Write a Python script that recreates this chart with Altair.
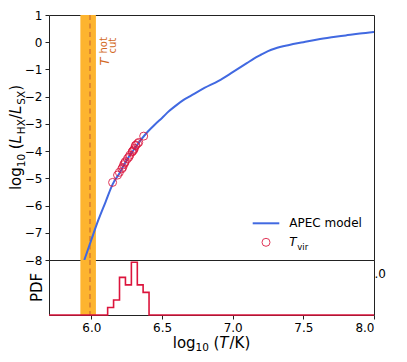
import altair as alt
import pandas as pd

# ---------------- data ----------------
curve_T = [5.95, 6.0, 6.05, 6.1, 6.15, 6.2, 6.25, 6.3, 6.35, 6.4, 6.45, 6.5, 6.55, 6.6,
           6.65, 6.7, 6.8, 6.9, 7.0, 7.1, 7.15, 7.2, 7.25, 7.3, 7.4, 7.5, 7.6, 7.7,
           7.8, 7.9, 8.0]
curve_L = [-8.0, -7.25, -6.52, -5.87, -5.22, -4.8, -4.33, -3.95, -3.59, -3.28, -3.02,
           -2.78, -2.53, -2.32, -2.13, -1.98, -1.68, -1.42, -1.1, -0.77, -0.6, -0.46,
           -0.33, -0.23, -0.1, 0.0, 0.1, 0.18, 0.25, 0.32, 0.38]

vir_T = [6.150, 6.185, 6.198, 6.215, 6.222, 6.228, 6.235, 6.240, 6.255, 6.265,
         6.272, 6.288, 6.292, 6.299, 6.305, 6.311, 6.315, 6.327, 6.335, 6.370]
vir_L = [-5.15, -4.88, -4.78, -4.65, -4.60, -4.50, -4.44, -4.39, -4.28, -4.22,
         -4.15, -4.03, -4.00, -3.96, -3.90, -3.80, -3.78, -3.72, -3.68, -3.45]

hist_edges = [6.115, 6.157, 6.199, 6.241, 6.283, 6.325, 6.366, 6.408]
hist_counts = [1, 2, 5, 4, 7, 4, 3]

band_T = [5.922, 6.032]
cut_T = [5.99]

x_domain = [5.7, 8.0]
x_ticks = [6.0, 6.5, 7.0, 7.5, 8.0]
y_domain = [-8, 1]
y_ticks = [-8, -7, -6, -5, -4, -3, -2, -1, 0, 1]
pdf_domain = [0, 7.3]

# ---------------- style ----------------
FONT = "DejaVu Sans"
BLUE = "#4169E1"
RED = "#DC143C"
BAND = "#FDB42F"
DASH = "#DD8530"
CUTTXT = "#D2691E"
W = 325
H_TOP = 245
H_BOT = 55

ADV = {'l': 569, 'o': 1253, 'g': 1300, '1': 1303, '0': 1303, ' ': 651, '(': 799,
       ')': 799, 'L': 1141, 'H': 1540, 'X': 1405, '/': 690, 'S': 1300, 'T': 1251,
       'K': 1343}


def width(s, size):
    return sum(ADV.get(c, 1200) for c in s) / 2048.0 * size


ONE = pd.DataFrame({"k": [0]})


def txt(s, x, y, size, angle=0, style="normal", align="left",
        baseline="alphabetic", color="black"):
    return alt.Chart(ONE).mark_text(
        text=s, angle=angle, align=align, baseline=baseline, font=FONT,
        fontSize=size, fontStyle=style, color=color
    ).encode(x=alt.value(x), y=alt.value(y))


xs = alt.Scale(domain=x_domain, nice=False, zero=False)
ys = alt.Scale(domain=y_domain, nice=False, zero=False)
yaxis = alt.Axis(values=y_ticks, title=None, grid=False, domain=False, tickCount=10,
                 tickSize=4, labelPadding=3, labelFontSize=12, labelOverlap=False,
                 labelFont=FONT, labelColor="black", tickColor="#222")

# ---------------- top panel ----------------
band_df = pd.DataFrame({"a": [band_T[0]], "b": [band_T[1]]})
cut_df = pd.DataFrame({"t": cut_T})
curve_df = pd.DataFrame({"T": curve_T, "L": curve_L})
vir_df = pd.DataFrame({"T": vir_T, "L": vir_L})

band_top = alt.Chart(band_df).mark_rect(color=BAND).encode(
    x=alt.X("a:Q", scale=xs, axis=None), x2="b:Q",
    y=alt.value(0), y2=alt.value(H_TOP))
cut_top = alt.Chart(cut_df).mark_rule(color=DASH, strokeDash=[5, 3.5], strokeWidth=1.8).encode(
    x=alt.X("t:Q", scale=xs, axis=None))
curve = alt.Chart(curve_df).mark_line(color=BLUE, strokeWidth=2, interpolate="monotone").encode(
    x=alt.X("T:Q", scale=xs, axis=None),
    y=alt.Y("L:Q", scale=ys, axis=yaxis))
vir = alt.Chart(vir_df).mark_point(shape="circle", filled=False, color=RED, size=64,
                                   strokeWidth=1, opacity=0.85).encode(
    x=alt.X("T:Q", scale=xs, axis=None), y=alt.Y("L:Q", scale=ys, axis=yaxis))

# y title composite (rotated); gaps added manually (SVG trims spaces)
ysegs = [("log", 15, "normal", 0, 0), ("10", 10.5, "normal", 3.5, 4.5),
         ("(", 15, "normal", 0, 0), ("L", 15, "italic", 0, 1),
         ("HX", 10.5, "normal", 3.5, 0), ("/", 15, "normal", 0, 0),
         ("L", 15, "italic", 0, 1), ("SX", 10.5, "normal", 3.5, 0),
         (")", 15, "normal", 0, 0)]
tot = sum(width(s, sz) + g for s, sz, st, _, g in ysegs)
start = H_TOP / 2 + tot / 2
ytitle = []
cum = 0
for s, sz, st, sh, g in ysegs:
    ytitle.append(txt(s, -28 + sh, start - cum, sz, angle=270, style=st))
    cum += width(s, sz) + g

# T_cut^hot annotation
cut_label = [
    txt("T", 59.5, 50.5, 13, angle=270, style="italic", color=CUTTXT),
    txt("hot", 57.5, 38.5, 10, angle=270, color=CUTTXT),
    txt("cut", 66.5, 38.5, 10, angle=270, color=CUTTXT),
]

# legend
leg_line = alt.Chart(ONE).mark_rule(color=BLUE, strokeWidth=2).encode(
    x=alt.value(203.7), x2=alt.value(230.3), y=alt.value(208.3))
leg_circ = alt.Chart(ONE).mark_point(shape="circle", filled=False, color=RED, size=64,
                                     strokeWidth=1, opacity=0.85).encode(
    x=alt.value(217), y=alt.value(227.3))
legend = [leg_line, leg_circ,
          txt("APEC model", 240.3, 208.3, 12, baseline="middle"),
          txt("T", 240.3, 227.3, 12, style="italic", baseline="middle"),
          txt("vir", 248.3, 231.5, 8.5, baseline="middle")]

top = alt.layer(band_top, cut_top, curve, vir, *ytitle, *cut_label, *legend).properties(
    width=W, height=H_TOP)

# ---------------- bottom panel ----------------
step_x = [x_domain[0]] + hist_edges + [x_domain[1]]
step_y = [0] + hist_counts + [0, 0]
hist_df = pd.DataFrame({"T": step_x, "n": step_y})

xaxis = alt.Axis(values=x_ticks, format=".1f", title=None, grid=False, domain=False,
                 tickSize=4, labelPadding=3, labelFontSize=12, labelFont=FONT,
                 labelColor="black", tickColor="#222")

band_bot = alt.Chart(band_df).mark_rect(color=BAND).encode(
    x=alt.X("a:Q", scale=xs, axis=xaxis), x2="b:Q",
    y=alt.value(0), y2=alt.value(H_BOT))
cut_bot = alt.Chart(cut_df).mark_rule(color=DASH, strokeDash=[5, 3.5], strokeWidth=1.8).encode(
    x=alt.X("t:Q", scale=xs, axis=xaxis))
hist = alt.Chart(hist_df).mark_line(color=RED, strokeWidth=1.6, interpolate="step-after").encode(
    x=alt.X("T:Q", scale=xs, axis=xaxis),
    y=alt.Y("n:Q", scale=alt.Scale(domain=pdf_domain, nice=False, zero=True), axis=None))

xsegs = [("log", 15, "normal", 0, 0), ("10", 10.5, "normal", 3.5, 4.5),
         ("(", 15, "normal", 0, 0), ("T", 15, "italic", 0, 1),
         ("/K)", 15, "normal", 0, 0)]
xtot = sum(width(s, sz) + g for s, sz, st, _, g in xsegs)
xstart = W / 2 - xtot / 2
xtitle = []
cum = 0
for s, sz, st, sh, g in xsegs:
    xtitle.append(txt(s, xstart + cum, 87.5 + sh, sz, style=st))
    cum += width(s, sz) + g

pdf_title = txt("PDF", -12, H_BOT / 2, 15, angle=270, align="center", baseline="middle")
stray = txt(".0", 325.5, 14, 12, baseline="middle")

bottom = alt.layer(band_bot, cut_bot, hist, *xtitle, pdf_title, stray).properties(
    width=W, height=H_BOT)

chart = alt.vconcat(top, bottom, spacing=0, bounds="flush").properties(
    padding={"left": 0, "top": 0, "right": 5, "bottom": 0}
).configure_view(stroke="#222", strokeWidth=1).configure_concat(spacing=0)

chart.save("out.html", embed_options={"renderer": "svg", "actions": False})
